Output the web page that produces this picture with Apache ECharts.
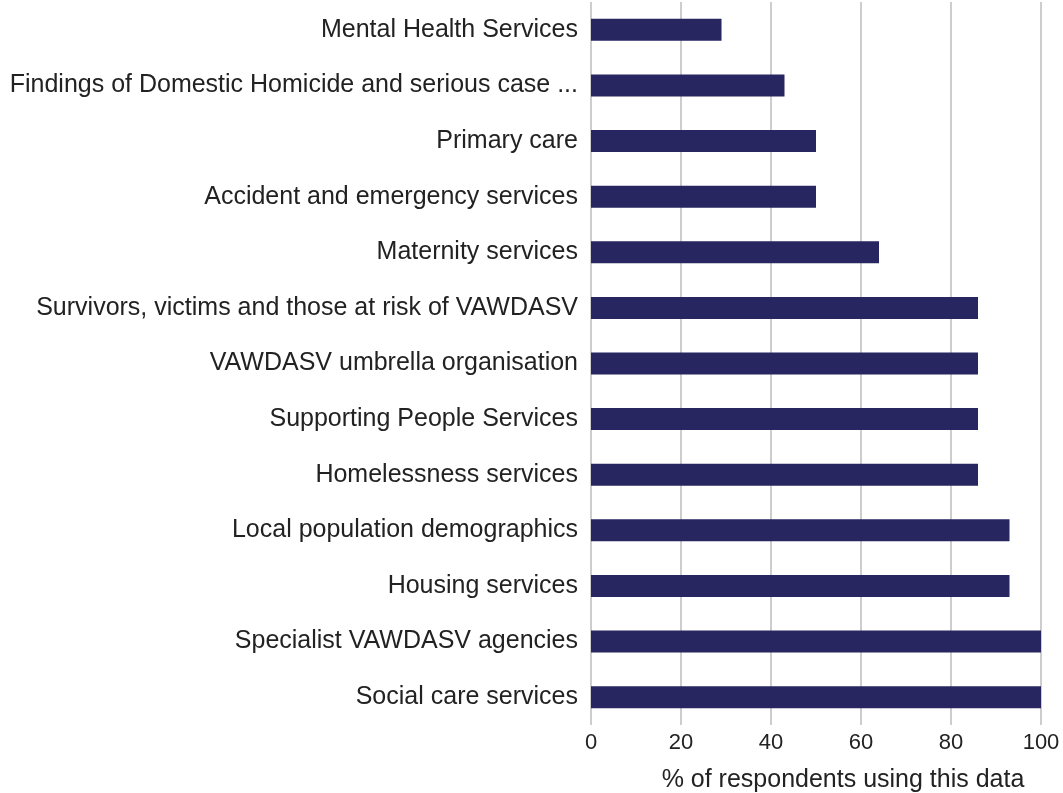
<!DOCTYPE html>
<html>
<head>
<meta charset="utf-8">
<script src="https://cdn.jsdelivr.net/npm/echarts@6/dist/echarts.min.js"></script>
<style>html,body{margin:0;padding:0;background:#fff;}#c{width:1063px;height:793px;}</style>
</head>
<body>
<div id="c"></div>
<script>
const categories = [
  "Social care services",
  "Specialist VAWDASV agencies",
  "Housing services",
  "Local population demographics",
  "Homelessness services",
  "Supporting People Services",
  "VAWDASV umbrella organisation",
  "Survivors, victims and those at risk of VAWDASV",
  "Maternity services",
  "Accident and emergency services",
  "Primary care",
  "Findings of Domestic Homicide and serious case ...",
  "Mental Health Services"
];
const values = [100, 100, 93, 93, 86, 86, 86, 86, 64, 50, 50, 43, 29];
const xTicks = [0, 20, 40, 60, 80, 100];
const xAxisTitle = "% of respondents using this data";

const chart = echarts.init(document.getElementById('c'));
chart.setOption({
  animation: false,
  grid: { left: 591, right: 22, top: 2, bottom: 68, containLabel: false, outerBoundsMode: 'none' },
  xAxis: {
    type: 'value', min: 0, max: 100, interval: 20,
    name: xAxisTitle, nameLocation: 'middle', nameGap: 43,
    nameTextStyle: { fontFamily: 'Liberation Sans', fontSize: 25, color: '#222', padding: [0, 0, 0, 54] },
    axisLine: { show: false }, axisTick: { show: false },
    axisLabel: { fontFamily: 'Liberation Sans', fontSize: 22, color: '#222', margin: 7,
      formatter: v => xTicks.includes(v) ? String(v) : '' },
    splitLine: { lineStyle: { color: '#bdbdbd', width: 1.5 } }
  },
  yAxis: {
    type: 'category', data: categories,
    axisLine: { show: false }, axisTick: { show: false },
    axisLabel: { fontFamily: 'Liberation Sans', fontSize: 25, color: '#222', margin: 13 }
  },
  series: [{
    type: 'bar', data: values, barWidth: 22,
    itemStyle: { color: '#272660' }
  }]
});
</script>
</body>
</html>
